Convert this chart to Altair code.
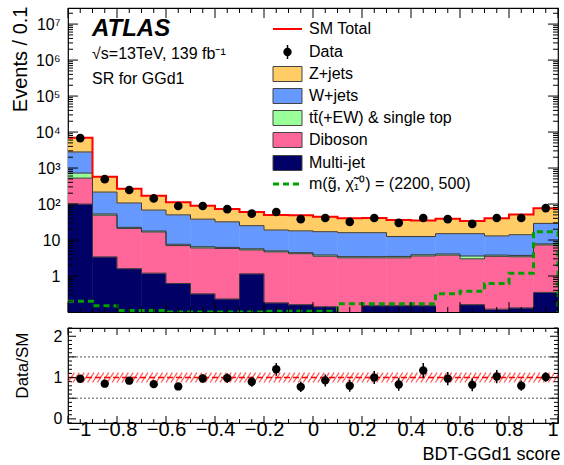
import altair as alt
import numpy as np
import pandas as pd

# ---- binning: BDT-GGd1 score, 20 bins of width 0.1 ----
edges = [round(-1.0 + 0.1 * i, 1) for i in range(21)]

# ---- background predictions per bin (events / 0.1) ----
multijet = [100, 3.4, 1.6, 1.2, 0.62, 0.32, 0.23, 1.15, 0.18, 0.16,
            0.14, 0.05, 0.15, 0.15, 0.15, 0.06, 0.16, 0.12, 0.13, 0.35]
diboson = [425, 45.6, 19.4, 15.5, 6.4, 5.7, 5.6, 4.15, 4.5, 4.0,
           3.4, 3.15, 3.05, 3.05, 3.45, 3.74, 2.84, 3.4, 3.3, 6.95]
ttbar = [200, 4.0, 1.5, 1.1, 0.6, 0.5, 0.4, 0.4, 0.3, 0.3,
         0.3, 0.25, 0.25, 0.3, 0.3, 0.3, 0.6, 0.3, 0.3, 0.5]
wjets = [2075, 162, 84.5, 50.2, 42.4, 31.5, 25.8, 19.3, 14.0, 13.5,
         13.2, 12.55, 12.55, 9.0, 8.6, 10.9, 11.4, 9.2, 10.3, 21.2]
zjets = [4200, 360, 158, 102, 62, 52, 41, 35, 31, 31,
         27, 24, 25, 23.5, 22.5, 24, 19, 27, 37, 47]

# ---- observed data and benchmark signal ----
data_obs = [6800, 490, 245, 143, 88, 88, 72, 54, 60, 38,
            41, 32, 41, 30, 41, 38, 28, 41, 41, 77]
signal = [0.2, 0.15, 0.11, 0.11, 0.1, 0.1, 0.1, 0.1, 0.105, 0.105,
          0.105, 0.17, 0.17, 0.17, 0.17, 0.32, 0.38, 0.62, 1.2, 17]

proc_names = ["Multi-jet", "Diboson", "t\u0074\u0304(+EW) & single top", "W+jets", "Z+jets"]
proc_colors = ["#000066", "#FF6699", "#99FF99", "#6699FF", "#FFCC66"]
proc_values = [multijet, diboson, ttbar, wjets, zjets]

SIG_LABEL = "m(g\u0303, \u03c7\u0303\u2081\u2070) = (2200, 500)"

# ---- geometry / style ----
W, H_TOP, H_BOT = 490, 304, 95
FONT = "Liberation Sans"
X_DOM = [-1, 1]
Y_DOM = [0.1, 2.8e7]
R_DOM = [-0.1, 2.2]
FLOOR = 1e-3
SYST = 0.12  # relative uncertainty shown as the hatched band in the ratio

xs = alt.Scale(domain=X_DOM, nice=False, zero=False)
ys = alt.Scale(type="log", domain=Y_DOM, nice=False)
rs = alt.Scale(domain=R_DOM, nice=False, zero=False)

nb = len(data_obs)
lo_e, hi_e = edges[:-1], edges[1:]
centers = [round((a + b) / 2, 3) for a, b in zip(lo_e, hi_e)]

# stacked rectangles and cumulative tops
rect_rows, cum, tops = [], np.zeros(nb), []
for name, vals in zip(proc_names, proc_values):
    lo = cum.copy()
    cum = cum + np.array(vals, dtype=float)
    tops.append(cum.copy())
    for i in range(nb):
        rect_rows.append(dict(x0=lo_e[i], x1=hi_e[i], lo=max(lo[i], FLOOR),
                              hi=cum[i], proc=name))
rects = pd.DataFrame(rect_rows)
total = cum


def step_rows(vals, name):
    r = [dict(x=edges[i], v=float(vals[i]), s=name, o=i) for i in range(nb)]
    r.append(dict(x=edges[-1], v=float(vals[-1]), s=name, o=nb))
    return r


bnd = pd.DataFrame(sum([step_rows(t, n) for t, n in zip(tops[:-1], proc_names[:-1])], []))
tot = pd.DataFrame(step_rows(total, "SM"))
sig_rows = step_rows(signal, "sig")
sig_rows.append(dict(x=edges[-1], v=Y_DOM[0] * 0.9, s="sig", o=nb + 1))
sig = pd.DataFrame(sig_rows)

n = np.array(data_obs, dtype=float)
err = np.sqrt(n)
dd = pd.DataFrame(dict(x=centers, n=n, lo=n - err, hi=n + err,
                       r=n / total, rlo=(n - err) / total, rhi=(n + err) / total))


# x channel helper: the upper panel has no x axis at all (every layer disables it);
# elsewhere secondary layers leave the axis unspecified so the first layer's axis is kept.
def X(field, show):
    return alt.X(field, scale=xs) if show else alt.X(field, scale=xs, axis=None)


# ---- inward ticks on all four sides ----
def tick_layers(x_major, x_minor, y_major, y_minor, yscale, h, xl, yl, x_shown):
    out = []
    for vals, L in ((y_major, yl[0]), (y_minor, yl[1])):
        df = pd.DataFrame({"v": vals})
        out.append(alt.Chart(df).mark_rule(color="black", strokeWidth=1).encode(
            y=alt.Y("v:Q", scale=yscale), x=alt.value(0), x2=alt.value(L)))
        out.append(alt.Chart(df).mark_rule(color="black", strokeWidth=1).encode(
            y=alt.Y("v:Q", scale=yscale), x=alt.value(W), x2=alt.value(W - L)))
    for vals, L in ((x_major, xl[0]), (x_minor, xl[1])):
        df = pd.DataFrame({"v": vals})
        out.append(alt.Chart(df).mark_rule(color="black", strokeWidth=1).encode(
            x=X("v:Q", x_shown), y=alt.value(h), y2=alt.value(h - L)))
        out.append(alt.Chart(df).mark_rule(color="black", strokeWidth=1).encode(
            x=X("v:Q", x_shown), y=alt.value(0), y2=alt.value(L)))
    return out


x_major = [round(v, 2) for v in np.arange(-1.0, 1.0001, 0.2)]
x_minor = [round(v, 2) for v in np.arange(-1.0, 1.0001, 0.05)
           if min(abs(v - m) for m in x_major) > 1e-6]
decades = [10.0 ** k for k in range(-1, 8)]
y_major = [d for d in decades if d >= 1]
y_minor = [m * d for d in decades for m in range(2, 10) if m * d <= Y_DOM[1]]
r_major = [0, 0.5, 1, 1.5, 2]
r_minor = [round(v, 2) for v in np.arange(-0.1, 2.2001, 0.1)
           if min(abs(v - m) for m in r_major) > 1e-6]

# ---- upper panel ----
y_axis = alt.Axis(values=y_major,
                  labelExpr="['1','10','10\u00b2','10\u00b3','10\u2074','10\u2075','10\u2076','10\u2077'][round(log(datum.value)/LN10)]",
                  ticks=False, domain=False, grid=False, labelFontSize=16, labelPadding=8,
                  title="Events / 0.1", titleFontSize=20, titleFontWeight="normal",
                  titleAngle=270, titleX=-48, titleY=-2, titleAlign="right",
                  titleBaseline="middle")

stack = alt.Chart(rects).mark_rect(clip=True, strokeWidth=0.5).encode(
    x=X("x0:Q", False), x2="x1:Q",
    y=alt.Y("lo:Q", scale=ys, axis=y_axis), y2="hi:Q",
    color=alt.Color("proc:N", scale=alt.Scale(domain=proc_names, range=proc_colors), legend=None),
    stroke=alt.Stroke("proc:N", scale=alt.Scale(domain=proc_names, range=proc_colors), legend=None),
)
bounds = alt.Chart(bnd).mark_line(interpolate="step-after", color="#3a3a3a", strokeWidth=1, clip=True).encode(
    x=X("x:Q", False), y=alt.Y("v:Q", scale=ys), detail="s:N", order="o:Q")
sm_line = alt.Chart(tot).mark_line(interpolate="step-after", color="#FF0000", strokeWidth=2, clip=True).encode(
    x=X("x:Q", False), y=alt.Y("v:Q", scale=ys), order="o:Q")
sig_line = alt.Chart(sig).mark_line(interpolate="step-after", color="#00A000", strokeWidth=3,
                                    strokeDash=[6, 4], clip=True).encode(
    x=X("x:Q", False), y=alt.Y("v:Q", scale=ys), order="o:Q")
d_err = alt.Chart(dd).mark_rule(color="black", strokeWidth=1.5).encode(
    x=X("x:Q", False), y=alt.Y("lo:Q", scale=ys), y2="hi:Q")
d_pts = alt.Chart(dd).mark_circle(color="black", size=75, opacity=1).encode(
    x=X("x:Q", False), y=alt.Y("n:Q", scale=ys))

one = pd.DataFrame({"a": [0]})


def txt(s, x, y, size, **kw):
    return alt.Chart(one).mark_text(text=s, font=FONT, fontSize=size, align="left",
                                    color="black", **kw).encode(x=alt.value(x), y=alt.value(y))


labels = [
    txt("ATLAS", 24, 28, 24, fontWeight="bold", fontStyle="italic", baseline="alphabetic"),
    txt("\u221as=13TeV, 139 fb\u207b\u00b9", 24, 51, 16, baseline="alphabetic"),
    txt("SR for GGd1", 24, 76, 16, baseline="alphabetic"),
]

# legend
LX0, LX1, LTX = 205, 234, 241
rows_y = [21, 44, 66, 88, 110, 132, 155, 176]
leg = []
leg.append(alt.Chart(one).mark_rule(color="#FF0000", strokeWidth=2).encode(
    x=alt.value(LX0), x2=alt.value(LX1), y=alt.value(rows_y[0])))
leg.append(txt("SM Total", LTX, rows_y[0], 16, baseline="middle"))
leg.append(alt.Chart(one).mark_rule(color="black", strokeWidth=1.5).encode(
    x=alt.value((LX0 + LX1) / 2), y=alt.value(rows_y[1] - 7), y2=alt.value(rows_y[1] + 7)))
leg.append(alt.Chart(one).mark_circle(color="black", size=70, opacity=1).encode(
    x=alt.value((LX0 + LX1) / 2), y=alt.value(rows_y[1])))
leg.append(txt("Data", LTX, rows_y[1], 16, baseline="middle"))
for k, idx in enumerate([4, 3, 2, 1, 0]):
    yy = rows_y[2 + k]
    leg.append(alt.Chart(one).mark_rect(fill=proc_colors[idx], stroke="#444444", strokeWidth=1).encode(
        x=alt.value(LX0), x2=alt.value(LX1), y=alt.value(yy - 7.5), y2=alt.value(yy + 7.5)))
    leg.append(txt(proc_names[idx], LTX, yy, 16, baseline="middle"))
leg.append(alt.Chart(one).mark_rule(color="#00A000", strokeWidth=3, strokeDash=[6, 4]).encode(
    x=alt.value(LX0), x2=alt.value(LX1), y=alt.value(rows_y[7])))
leg.append(txt(SIG_LABEL, LTX, rows_y[7], 16, baseline="middle"))

top = alt.layer(
    stack, bounds, sm_line, sig_line, d_err, d_pts,
    *tick_layers(x_major, x_minor, y_major, y_minor, ys, H_TOP, (10, 5), (10, 5), False),
    *labels, *leg,
).properties(width=W, height=H_TOP)

# ---- ratio panel ----
band_x = [round(v, 3) for v in np.arange(-1.04, 1.0001, 0.02)]
hatch = pd.DataFrame(dict(x=band_x, x2=[v + 0.026 for v in band_x],
                          y=[1 - SYST] * len(band_x), y2=[1 + SYST] * len(band_x)))
grid = pd.DataFrame({"v": [0.5, 1.5]})
unity = pd.DataFrame({"v": [1.0]})

x_axis = alt.Axis(values=x_major, labelExpr="format(datum.value, '.1~f')", ticks=False,
                  domain=False, grid=False, labelFontSize=20, labelPadding=-4,
                  title="BDT-GGd1 score", titleFontSize=18, titleFontWeight="normal",
                  titleX=W + 2, titleY=31, titleAlign="right", titleBaseline="middle")
r_axis = alt.Axis(values=r_major, labelExpr="datum.value + ''", ticks=False, domain=False,
                  grid=False, labelFontSize=16, labelPadding=6,
                  title="Data/SM", titleFontSize=17, titleFontWeight="normal",
                  titleAngle=270, titleX=-46, titleY=4, titleAlign="right",
                  titleBaseline="middle")

hatch_l = alt.Chart(hatch).mark_rule(color="#FF3333", strokeWidth=1.3, opacity=0.8, clip=True).encode(
    x=alt.X("x:Q", scale=xs, axis=x_axis), x2="x2:Q",
    y=alt.Y("y:Q", scale=rs, axis=r_axis), y2="y2:Q")
grid_l = alt.Chart(grid).mark_rule(color="#555555", strokeWidth=1, strokeDash=[2, 2]).encode(
    y=alt.Y("v:Q", scale=rs), x=alt.value(0), x2=alt.value(W))
unity_l = alt.Chart(unity).mark_rule(color="#FF0000", strokeWidth=1.5, strokeDash=[6, 3]).encode(
    y=alt.Y("v:Q", scale=rs), x=alt.value(0), x2=alt.value(W))
r_err = alt.Chart(dd).mark_rule(color="black", strokeWidth=1.5).encode(
    x=X("x:Q", True), y=alt.Y("rlo:Q", scale=rs), y2="rhi:Q")
r_pts = alt.Chart(dd).mark_circle(color="black", size=70, opacity=1).encode(
    x=X("x:Q", True), y=alt.Y("r:Q", scale=rs))

bottom = alt.layer(
    hatch_l, grid_l, unity_l, r_err, r_pts,
    *tick_layers(x_major, x_minor, r_major, r_minor, rs, H_BOT, (7, 4), (8, 4), True),
).properties(width=W, height=H_BOT)

chart = alt.vconcat(top, bottom, spacing=12).properties(
    padding={"left": 9, "top": 5, "right": 0, "bottom": 0},
    background="white",
).configure_view(stroke="black", strokeWidth=1.2).configure_axis(
    labelFont=FONT, titleFont=FONT, labelColor="black", titleColor="black"
).configure_text(font=FONT)

chart.save("out.html", embed_options={"renderer": "svg", "actions": False})
